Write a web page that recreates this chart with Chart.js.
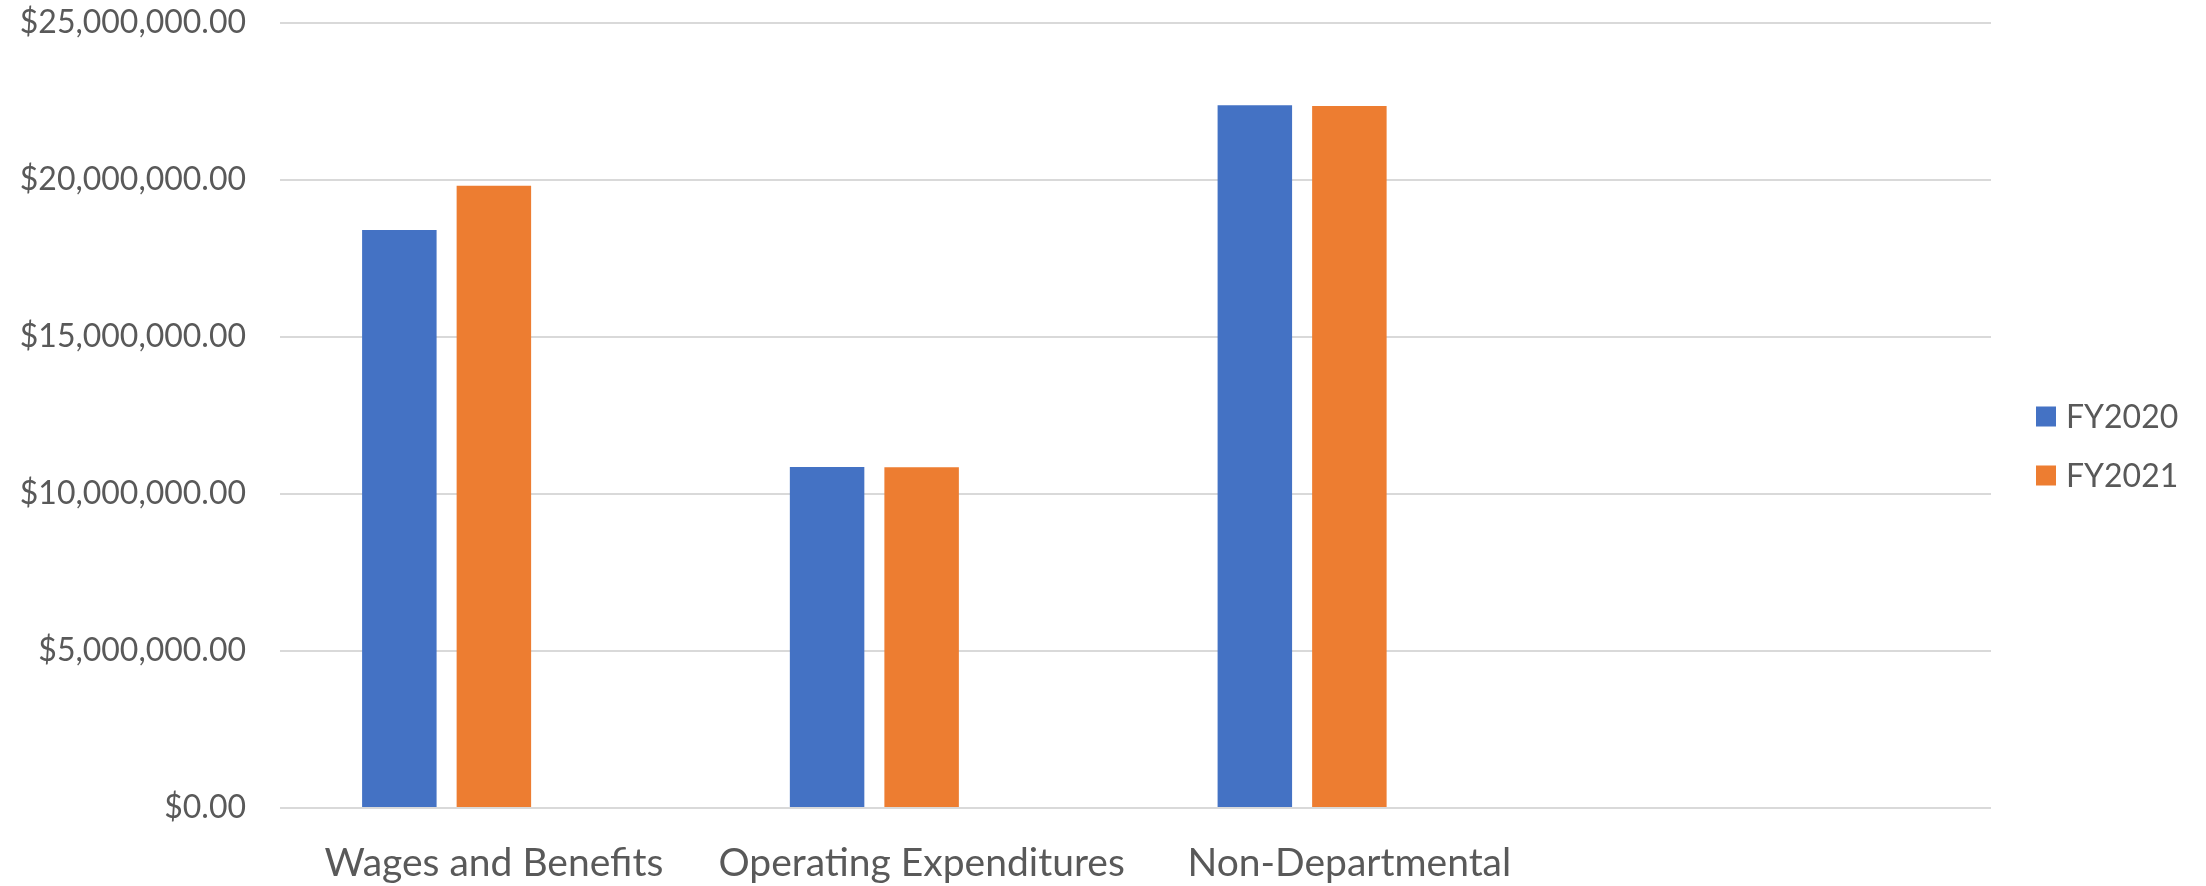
<!DOCTYPE html>
<html lang="en">
<head>
<meta charset="utf-8">
<title>FY2020 / FY2021</title>
<script src="https://cdn.jsdelivr.net/npm/chart.js@4/dist/chart.umd.min.js"></script>
<style>
  html, body { margin: 0; padding: 0; background: #ffffff; }
  canvas { display: block; }
</style>
</head>
<body>
<canvas id="myChart" width="2206" height="886"></canvas>
<script>
// Datos del gráfico
const categorias = ['Wages and Benefits', 'Operating Expenditures', 'Non-Departmental', ''];
const fy2020 = [18410000, 10860000, 22380000, null];
const fy2021 = [19820000, 10850000, 22360000, null];
const serieVacia = [null, null, null, null]; // tercera serie sin valores (deja su hueco en cada grupo)
const ticksY = [0, 5000000, 10000000, 15000000, 20000000, 25000000];

const colorTexto = '#595959';
const fuente = 'Lato, "Open Sans", sans-serif';

// formato moneda para el eje Y
const formatoMoneda = (valor) => '$' + valor.toLocaleString('en-US', { minimumFractionDigits: 2, maximumFractionDigits: 2 });

// leyenda a la derecha (cuadro + texto)
const leyendaLateral = {
    id: 'leyendaLateral',
    afterDraw(chart) {
        const { ctx, chartArea } = chart;
        const items = chart.data.datasets.filter((ds) => ds.label);
        const paso = 59;
        let y = chart.height / 2 + 3 - (paso * (items.length - 1)) / 2;
        ctx.save();
        ctx.font = `32px ${fuente}`;
        ctx.textBaseline = 'middle';
        ctx.textAlign = 'left';
        items.forEach((ds) => {
            const x = chartArea.right + 45;
            ctx.fillStyle = ds.backgroundColor;
            ctx.fillRect(x, y - 10, 20, 20);
            ctx.fillStyle = colorTexto;
            ctx.fillText(ds.label, x + 30, y + 1);
            y += paso;
        });
        ctx.restore();
    }
};

const config = {
    type: 'bar',
    data: {
        labels: categorias,
        datasets: [
            { label: 'FY2020', data: fy2020, backgroundColor: '#4472C4' },
            { label: 'FY2021', data: fy2021, backgroundColor: '#ED7D31' },
            { label: '', data: serieVacia, backgroundColor: 'rgba(0,0,0,0)' },
        ],
    },
    options: {
        responsive: false,
        animation: false,
        devicePixelRatio: 1,
        layout: { padding: { top: 23, right: 215, bottom: 0, left: 0 } },
        datasets: {
            bar: { categoryPercentage: 0.663, barPercentage: 0.788 },
        },
        plugins: {
            legend: { display: false },
            tooltip: { enabled: false },
        },
        scales: {
            x: {
                grid: { display: false },
                border: { display: false },
                ticks: {
                    color: colorTexto,
                    font: { family: fuente, size: 39 },
                    padding: 24,
                    maxRotation: 0,
                    autoSkip: false,
                },
                afterFit: (scale) => { scale.height = 78; },
            },
            y: {
                min: 0,
                max: 25000000,
                afterBuildTicks: (scale) => { scale.ticks = ticksY.map((v) => ({ value: v })); },
                grid: { color: '#d9d9d9', lineWidth: 2, drawTicks: false },
                border: { display: false },
                ticks: {
                    color: colorTexto,
                    font: { family: fuente, size: 32 },
                    padding: 34,
                    callback: (valor) => formatoMoneda(valor),
                },
                afterFit: (scale) => {
                    scale.width = 280; // ancho fijo del eje
                    scale.paddingTop = 0; // sin margen extra arriba/abajo
                    scale.paddingBottom = 0;
                },
            },
        },
    },
    plugins: [leyendaLateral],
};

const myChart = new Chart(document.getElementById('myChart'), config);
</script>
</body>
</html>
